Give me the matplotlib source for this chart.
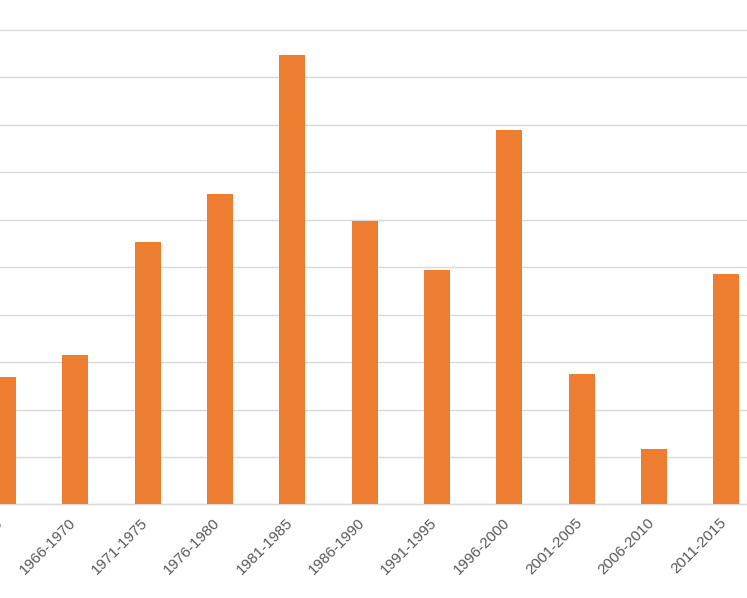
import numpy as np

import matplotlib
matplotlib.use('Agg')
import matplotlib.pyplot as plt
import matplotlib.transforms as mtransforms

# Five-year periods and bar heights (in gridline units)
periods = ['1961-1965', '1966-1970', '1971-1975', '1976-1980', '1981-1985',
           '1986-1990', '1991-1995', '1996-2000', '2001-2005', '2006-2010',
           '2011-2015']
counts = [2.68, 3.16, 5.54, 6.55, 9.47, 5.98, 4.95, 7.90, 2.74, 1.17, 4.85]

bar_color = '#ED7D31'
grid_color = '#D9D9D9'
label_color = '#595959'

fig = plt.figure(figsize=(7.47, 5.98), dpi=100)
ax = fig.add_axes([0.0, 0.1564, 1.0, 0.7951])

x = np.arange(len(periods))
ax.bar(x, counts, width=0.36, color=bar_color, zorder=3)

# chart is cropped on both sides, so the category axis runs past the frame
ax.set_xlim(-0.0415, 10.286)
ax.set_ylim(0, 10.02)
ax.set_yticks(np.arange(0, 11, 1))
ax.yaxis.grid(True, color=grid_color, linewidth=1.0, zorder=0)
ax.set_yticklabels([])
ax.tick_params(axis='y', length=0)

ax.set_xticks(x)
ax.set_xticklabels(periods, rotation=45, ha='right', rotation_mode='anchor',
                   color=label_color, fontsize=11, family='Liberation Sans')
ax.tick_params(axis='x', length=0, pad=8)
shift = mtransforms.ScaledTranslation(-5 / 72, 0, fig.dpi_scale_trans)
for lbl in ax.get_xticklabels():
    lbl.set_transform(lbl.get_transform() + shift)

for side in ['top', 'left', 'right']:
    ax.spines[side].set_visible(False)
ax.spines['bottom'].set_color(grid_color)
ax.spines['bottom'].set_linewidth(1.0)

fig.savefig('out.png', dpi=100)
